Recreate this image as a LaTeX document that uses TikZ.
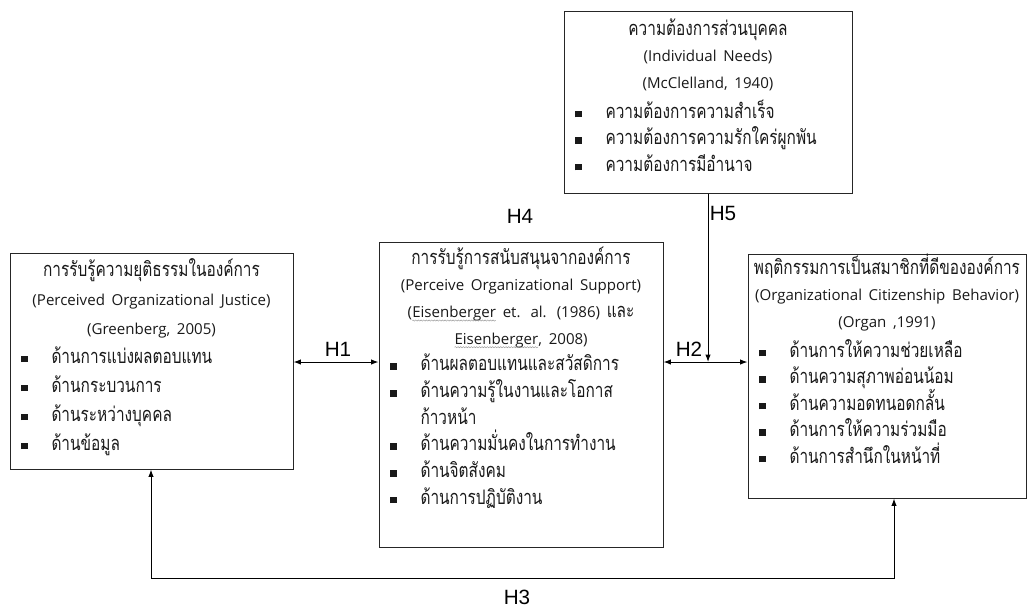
\documentclass[tikz,border=0pt]{standalone}
\usepackage{fontspec}
\usetikzlibrary{arrows.meta,fit,decorations.pathmorphing}
\newfontfamily\thaifont[Script=Thai,FakeStretch=0.77]{Loma}
\newfontfamily\latfont{Open Sans}
\newfontfamily\hfont{Liberation Sans}
\newlength\px \setlength\px{0.75pt}
\newcommand\lat[1]{\mbox{\latfont\fontsize{11.3}{11.3}\selectfont #1}}
\newcommand\gwave[1]{\tikz[baseline=(w.base)]{\node[inner sep=0pt,outer sep=0pt,text width={},align=none,anchor=base,font=](w){#1};\draw[black!40, line width=0.35pt, decorate, decoration={snake, amplitude=0.45pt, segment length=2pt}] ([yshift=-2.4pt]w.base west) -- ([yshift=-2.4pt]w.base east);}}
\newcommand\bl[1]{\makebox[\hsize][l]{\hspace{11\px}\rule[0.8\px]{6.5\px}{6.5\px}\hspace{24\px}#1}}
\newcommand\cont[1]{\makebox[\hsize][l]{\hspace{41.5\px}#1}}
\newcommand\nols{\lineskiplimit=-50pt\relax}
\begin{document}
\begin{tikzpicture}[x=0.75pt,y=-0.75pt,
  box/.style={draw=black!85, line width=0.75pt, inner sep=0pt, fit={#1}},
  txt/.style={inner sep=0pt, anchor=base, align=center, text=black!90, font=\thaifont\fontsize{15}{#1}\selectfont},
  arr/.style={line width=0.75pt, -{Latex[length=5.5pt,width=4pt]}},
  barr/.style={line width=0.75pt, {Latex[length=5.5pt,width=4pt]}-{Latex[length=5.5pt,width=4pt]}},
  hlab/.style={inner sep=0pt, font=\hfont\fontsize{15.5}{15.5}\selectfont}]
\useasboundingbox (0,0) rectangle (1030,608);

% boxes
\node[box={(564,11) (852,193)}] (T) {};
\node[box={(10,253) (293,469)}] (L) {};
\node[box={(379,242) (663,547)}] (C) {};
\node[box={(748,254) (1026,498)}] (R) {};

% texts
\node[txt=19.9pt, text width=288*0.75pt] (Ttxt) at (708,35) {\nols
ความต้องการส่วนบุคคล\\
\lat{(Individual Needs)}\\
\lat{(McClelland, 1940)}\\[3.5\px]
\bl{ความต้องการความสำเร็จ}\\
\bl{ความต้องการความรักใคร่ผูกพัน}\\
\bl{ความต้องการมีอำนาจ}};

\node[txt=21.75pt, text width=283*0.75pt] (Ltxt) at (151.5,276) {\nols
การรับรู้ความยุติธรรมในองค์การ\\
\lat{(Perceived Organizational Justice)}\\
\lat{(Greenberg, 2005)}\\
\bl{ด้านการแบ่งผลตอบแทน}\\
\bl{ด้านกระบวนการ}\\
\bl{ด้านระหว่างบุคคล}\\
\bl{ด้านข้อมูล}};

\node[txt=20pt, text width=284*0.75pt] (Ctxt) at (521,264) {\nols
การรับรู้การสนับสนุนจากองค์การ\\
\lat{(Perceive Organizational Support)}\\
\mbox{\lat{(\gwave{Eisenberger} et. al. (1986)} และ}\\
\lat{\gwave{Eisenberger}, 2008)}\\
\bl{ด้านผลตอบแทนและสวัสดิการ}\\
\bl{ด้านความรู้ในงานและโอกาส}\\
\cont{ก้าวหน้า}\\
\bl{ด้านความมั่นคงในการทำงาน}\\
\bl{ด้านจิตสังคม}\\
\bl{ด้านการปฏิบัติงาน}};

\node[txt=19.9pt, text width=278*0.75pt] (Rtxt) at (887,274) {\nols
พฤติกรรมการเป็นสมาชิกที่ดีขององค์การ\\
\lat{(Organizational Citizenship Behavior)}\\
\lat{(Organ ,1991)}\\[3.5\px]
\bl{ด้านการให้ความช่วยเหลือ}\\
\bl{ด้านความสุภาพอ่อนน้อม}\\
\bl{ด้านความอดทนอดกลั้น}\\
\bl{ด้านการให้ความร่วมมือ}\\
\bl{ด้านการสำนึกในหน้าที่}};

% connectors
\coordinate (j) at (708,362);
\coordinate (h3l) at (151,578);
\coordinate (h3r) at (894,578);
\draw[barr] (L.east |- j) -- (C.west |- j);
\draw[barr] (C.east |- j) -- (R.west |- j);
\draw[arr] (T.south) -- (j);
\draw[barr] (L.south -| h3l) -- (h3l) -- (h3r) -- (R.south -| h3r);

% labels
\node[hlab] (H1) at (338,349) {H1};
\node[hlab] (H2) at (689,349) {H2};
\node[hlab] (H3) at (517,597) {H3};
\node[hlab] (H4) at (520,216) {H4};
\node[hlab] (H5) at (723,213) {H5};
\end{tikzpicture}
\end{document}
